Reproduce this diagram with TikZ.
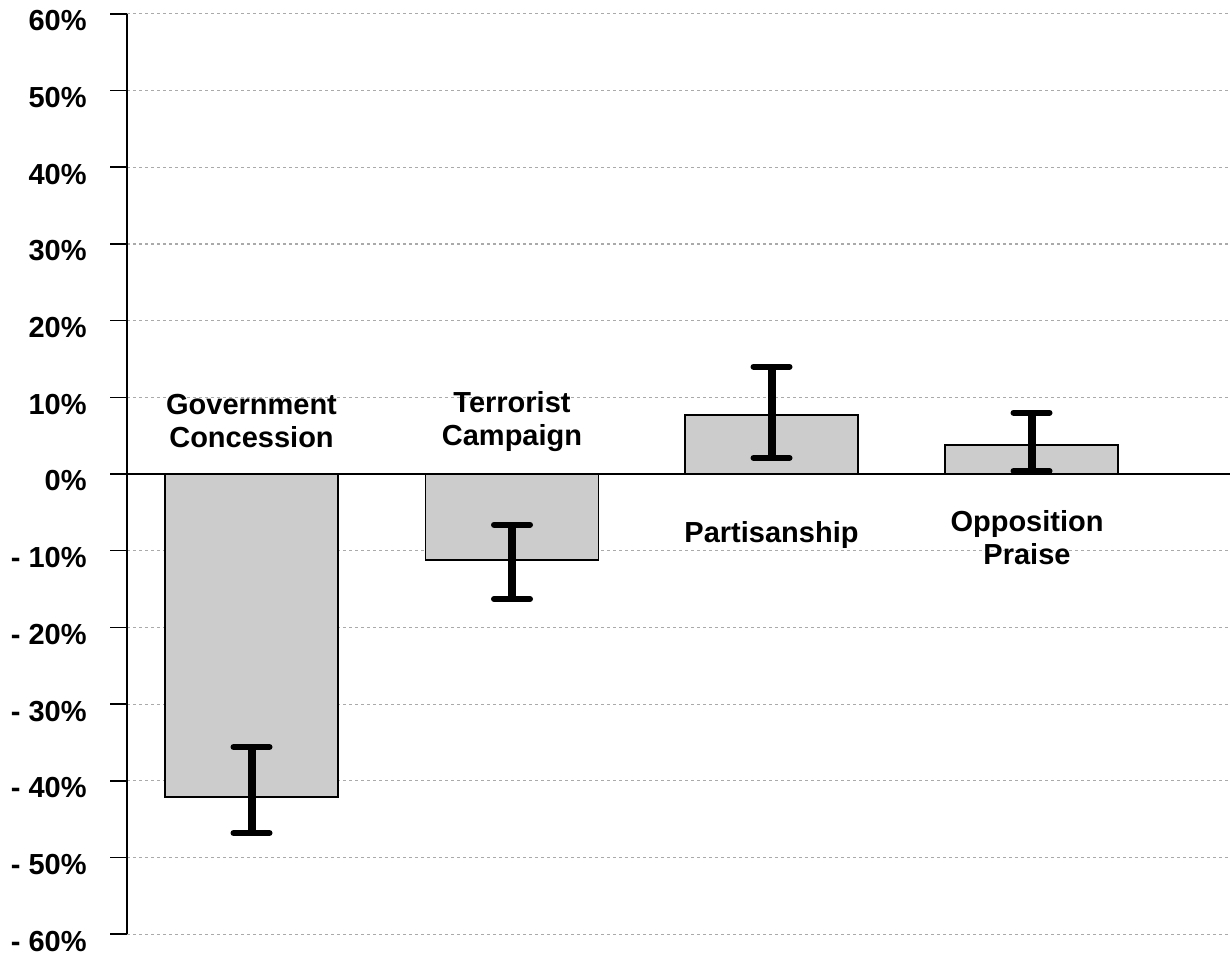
\documentclass[tikz,border=0pt]{standalone}
\usepackage{fontspec}
\setmainfont{Liberation Sans}
\usepackage{tikz}
\definecolor{barfill}{HTML}{CCCCCC}
\definecolor{gridgray}{HTML}{AAAAAA}
\usetikzlibrary{positioning}
\tikzstyle{axis} = [line width=0.75pt, black]
\tikzstyle{gridline} = [line width=0.6pt, gridgray, dash pattern=on 1.5pt off 1.5pt]
\tikzstyle{bar} = [line width=0.7pt, draw=black, fill=barfill]
\tikzstyle{errstem} = [line width=4pt, black]
\tikzstyle{errcap} = [line width=3pt, black, line cap=round]

\begin{document}
\begin{tikzpicture}[x=0.5pt, y=3.835pt]
    \tikzstyle{every node}=[font=\fontsize{14.5}{16.5}\selectfont\bfseries]
    \tikzstyle{ticklabel} = [anchor=east, inner sep=0pt, yshift=-3.5pt]
    \tikzstyle{barlabel} = [align=center, inner sep=0pt]
    \useasboundingbox (0,-62.45) rectangle (1230,61.8);

    % grid and tick marks
    \foreach \v in {-60,-50,...,60} {
        \ifnum\v=0\else
            \draw[gridline] (127,\v) -- (1230,\v);
        \fi
        \draw[axis] (110,\v) -- (127,\v);
    }
    \foreach \v in {0,10,...,60}
        \node[ticklabel] (tp\v) at (87,\v) {\v\%};
    \foreach \v in {10,20,...,60}
        \node[ticklabel] (tn\v) at (87,-\v) {- \v\%};

    % bars
    \foreach \c/\val in {251.5/-42.1, 512/-11.2, 771.5/7.7, 1031.5/3.8}
        \draw[bar] (\c-86.5,0) rectangle (\c+86.5,\val);

    % axes
    \draw[axis] (127,0) coordinate (zl) -- (1230,0) coordinate (zr);
    \draw[axis] (127,60) coordinate (yt) -- (127,-60) coordinate (yb);

    % error bars
    \foreach \n/\c/\lo/\hi in {gov/251.5/-46.8/-35.6, ter/512/-16.3/-6.6,
                              par/771.5/2.1/14.0, opp/1031.5/0.4/8.0} {
        \coordinate (\n lo) at (\c,\lo);
        \coordinate (\n hi) at (\c,\hi);
        \draw[errstem] (\n lo) -- (\n hi);
        \draw[errcap] ([xshift=-9pt]\n lo) -- ([xshift=9pt]\n lo);
        \draw[errcap] ([xshift=-9pt]\n hi) -- ([xshift=9pt]\n hi);
    }

    % labels
    \node[barlabel] (govlabel) at (251.5,6.85) {Government\\Concession};
    \node[barlabel] (terlabel) at (512,6.85) {Terrorist\\Campaign};
    \node[barlabel] (parlabel) at (771.5,-7.95) {Partisanship};
    \node[barlabel] (opplabel) at (1027,-8.28) {Opposition\\Praise};
\end{tikzpicture}
\end{document}
